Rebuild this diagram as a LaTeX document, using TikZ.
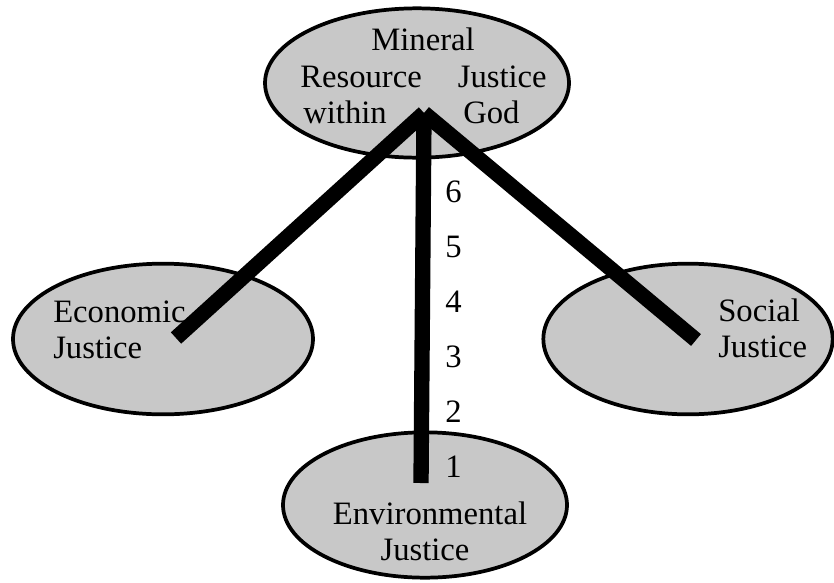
\documentclass[tikz,border=0pt]{standalone}
\usepackage{fontspec}
\setmainfont{Liberation Serif}
\usepackage{tikz}
\usetikzlibrary{shapes.geometric}
\definecolor{ellfill}{RGB}{200,200,200}
\tikzset{
	blob/.style={ellipse,draw=black,line width=2.8pt,fill=ellfill,inner sep=0pt},
	word/.style={inner sep=0pt,font=\fontsize{24.5}{29}\selectfont},
	bar/.style={line width=11.5pt,line cap=butt,black}
}
\begin{document}
\begin{tikzpicture}[x=0.75pt,y=-0.75pt]
	\useasboundingbox (0,0) rectangle (834,582);
	\node[blob,minimum width=228pt,minimum height=112pt] (top) at (417,83) {};
	\node[blob,minimum width=225pt,minimum height=113pt] (econ) at (163,339) {};
	\node[blob,minimum width=217pt,minimum height=113pt] (soc) at (688,339) {};
	\node[blob,minimum width=213pt,minimum height=109pt] (env) at (425,505) {};
	\node[word,anchor=base] (t1) at (423,50) {Mineral};
	\node[word,anchor=base west] (t2) at (300,87) {Resource};
	\node[word,anchor=base east] (t3) at (547,87) {Justice};
	\node[word,anchor=base west] (t4) at (303,123) {within};
	\node[word,anchor=base west] (t5) at (463,123) {God};
	\node[word,anchor=base west] (e1) at (53,322) {Economic};
	\node[word,anchor=base west] (e2) at (53,358) {Justice};
	\node[word,anchor=base west] (s1) at (718,321) {Social};
	\node[word,anchor=base west] (s2) at (718,357) {Justice};
	\node[word,anchor=base] (v1) at (430,524) {Environmental};
	\node[word,anchor=base] (v2) at (425,560) {Justice};
	\foreach \n in {1,...,6}
		\node[word,anchor=base west] (num\n) at (445,{477-55*(\n-1)}) {\n};
	\coordinate (apex) at (424,113);
	\coordinate (econend) at (176,338);
	\coordinate (socend) at (696,340);
	\coordinate (envend) at (421,483);
	\draw[bar] (apex)--(econend);
	\draw[bar] (apex)--(socend);
	\draw[bar] (apex)--(envend);
\end{tikzpicture}
\end{document}
